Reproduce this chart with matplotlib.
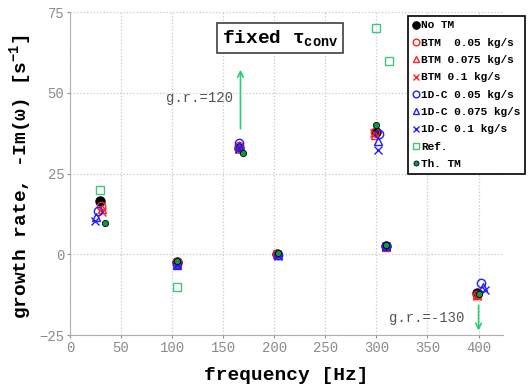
import matplotlib
matplotlib.use("Agg")
import matplotlib.pyplot as plt

plt.rcParams['font.family'] = ['Liberation Mono', 'DejaVu Sans']
plt.rcParams['mathtext.fontset'] = 'custom'
plt.rcParams['mathtext.rm'] = 'Liberation Mono:bold'
plt.rcParams['mathtext.it'] = 'Liberation Mono:bold'
plt.rcParams['mathtext.bf'] = 'Liberation Mono:bold'

# frequency [Hz] and growth rate [1/s] for each model
f_notm = [29.5, 105, 166, 203, 300, 309, 398]
g_notm = [16.5, -2.5, 33, 0, 38, 2.5, -12]
f_btm05 = [30.5, 105, 166, 203, 299, 309, 398]
g_btm05 = [15, -2.5, 33.5, 0, 38, 2.5, -12.5]
f_btm075 = [31, 105, 166, 203, 299, 309, 398]
g_btm075 = [14, -2.7, 33, 0, 37, 2.4, -12.5]
f_btm1 = [31.5, 105, 166, 203, 298, 309, 398]
g_btm1 = [13, -2.8, 32.5, 0, 37.5, 2.3, -13]
f_1dc05 = [27.5, 104.5, 166, 203.5, 303, 309, 402.5]
g_1dc05 = [13.3, -3, 34.5, -0.2, 37.4, 2.5, -9]
f_1dc075 = [26, 104.5, 166, 203.5, 302, 309, 404]
g_1dc075 = [11.5, -3.2, 33.5, -0.3, 35, 2.5, -10]
f_1dc1 = [24.5, 104.5, 166, 203.5, 301.5, 309, 406.5]
g_1dc1 = [10.2, -3.3, 32.5, -0.4, 32.4, 2.5, -11]
f_ref = [30, 105, 165, 300, 312, 400]
g_ref = [20, -10, 120, 70, 60, -130]
f_th = [34, 105, 169, 203.5, 300, 309, 400]
g_th = [9.6, -2, 31.5, 0.5, 40, 2.8, -12.3]

red = '#ff2020'
blue = '#2020ff'
green_ref = '#3cc878'
green_th = '#0a9a4a'
arrow_c = '#2ecc71'

fig = plt.figure(figsize=(5.29, 3.9), dpi=100)
ax = fig.add_axes([0.132, 0.141, 0.819, 0.828])

ms = 6
ax.plot(f_notm, g_notm, 'o', color='black', ms=6.5, ls='none', label='No TM')
ax.plot(f_btm05, g_btm05, 'o', mfc='none', mec=red, mew=1, ms=ms, ls='none', label='BTM  0.05 kg/s')
ax.plot(f_btm075, g_btm075, '^', mfc='none', mec=red, mew=1, ms=ms, ls='none', label='BTM 0.075 kg/s')
ax.plot(f_btm1, g_btm1, 'x', color=red, mew=1, ms=ms, ls='none', label='BTM 0.1 kg/s')
ax.plot(f_1dc05, g_1dc05, 'o', mfc='none', mec=blue, mew=1, ms=ms, ls='none', label='1D-C 0.05 kg/s')
ax.plot(f_1dc075, g_1dc075, '^', mfc='none', mec=blue, mew=1, ms=ms, ls='none', label='1D-C 0.075 kg/s')
ax.plot(f_1dc1, g_1dc1, 'x', color=blue, mew=1, ms=ms, ls='none', label='1D-C 0.1 kg/s')
ax.plot(f_ref, g_ref, 's', mfc='none', mec=green_ref, mew=1, ms=ms, ls='none', label='Ref.')
ax.plot(f_th, g_th, 'o', mfc=green_th, mec='black', mew=0.6, ms=4.5, ls='none', label='Th. TM')

# off-scale reference values
ax.annotate('', xy=(167, 58), xytext=(167, 38),
            arrowprops=dict(arrowstyle='->', color=arrow_c, lw=1.2))
ax.text(160, 48.5, 'g.r.=120', ha='right', va='center', fontsize=10, color='#555555')
ax.annotate('', xy=(400, -24.5), xytext=(400, -15),
            arrowprops=dict(arrowstyle='->', color=arrow_c, lw=1.2))
ax.text(386, -19.8, 'g.r.=-130', ha='right', va='center', fontsize=10, color='#555555')

ax.text(206, 67, r'fixed $τ_{conv}$', ha='center', va='center', fontsize=14,
        fontweight='bold',
        bbox=dict(boxstyle='square,pad=0.25', fc='white', ec='#404040', lw=1.2))

ax.set_xlim(0, 424)
ax.set_ylim(-25, 75)
ax.set_xticks(range(0, 401, 50))
ax.set_yticks([-25, 0, 25, 50, 75])
ax.grid(True, ls=':', color='#c8c8c8', lw=0.9)
ax.set_axisbelow(True)
for s in ['top', 'right']:
    ax.spines[s].set_visible(False)
for s in ['left', 'bottom']:
    ax.spines[s].set_color('#b0b0b0')
ax.tick_params(colors='#909090', labelsize=10, length=2, pad=2, labelcolor='#8a8a8a')

ax.set_xlabel('frequency [Hz]', fontsize=14, fontweight='bold')
ax.set_ylabel(r'growth rate, -Im(ω) [s$^{-1}$]', fontsize=14, fontweight='bold')
ax.xaxis.set_label_coords(0.5, -0.098)
ax.yaxis.set_label_coords(-0.083, 0.49)

leg = fig.legend(loc='upper left', bbox_to_anchor=(0.771, 0.959),
                 prop={'family': 'Liberation Mono', 'weight': 'bold', 'size': 8.0},
                 frameon=True, fancybox=False, framealpha=1, edgecolor='black',
                 handlelength=0.6, handletextpad=0.2, borderpad=0.4,
                 labelspacing=0.66, borderaxespad=0, markerscale=0.8)
leg.get_frame().set_linewidth(1.2)

fig.savefig('out.png', dpi=100)
